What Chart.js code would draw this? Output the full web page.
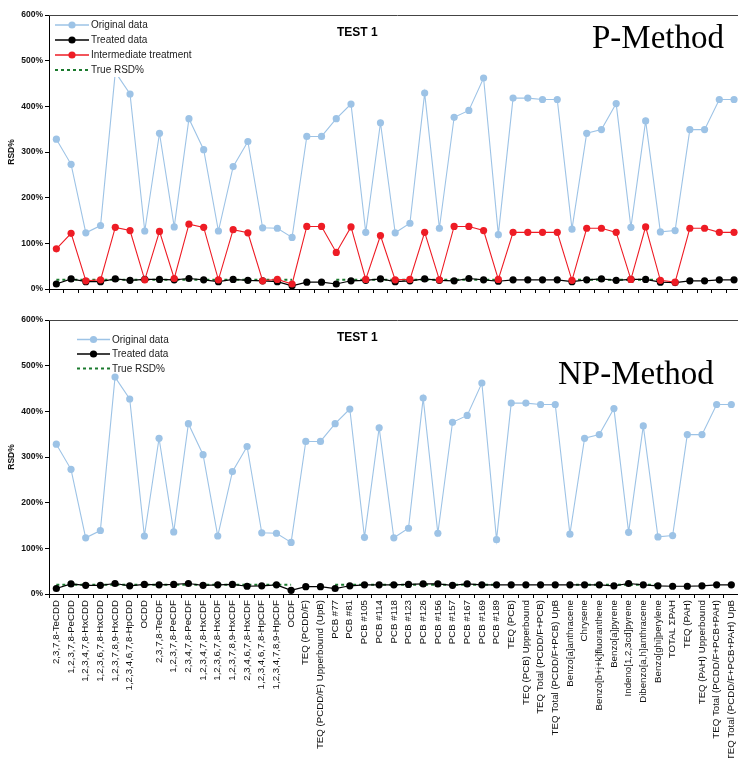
<!DOCTYPE html>
<html>
<head>
<meta charset="utf-8">
<script src="https://cdn.jsdelivr.net/npm/chart.js@4.4.0/dist/chart.umd.min.js"></script>
<style>
  html, body { margin: 0; padding: 0; background: #fff; overflow: hidden; width: 738px; height: 758px; }
  canvas { position: absolute; left: 0; }
  #topChart { top: 0; }
  #bottomChart { top: 305px; }
</style>
</head>
<body>
<canvas id="topChart" width="745" height="300"></canvas>
<canvas id="bottomChart" width="745" height="453"></canvas>
<script>
// categories along the x axis
const categories = [
  "2,3,7,8-TeCDD", "1,2,3,7,8-PeCDD", "1,2,3,4,7,8-HxCDD", "1,2,3,6,7,8-HxCDD",
  "1,2,3,7,8,9-HxCDD", "1,2,3,4,6,7,8-HpCDD", "OCDD", "2,3,7,8-TeCDF",
  "1,2,3,7,8-PeCDF", "2,3,4,7,8-PeCDF", "1,2,3,4,7,8-HxCDF", "1,2,3,6,7,8-HxCDF",
  "1,2,3,7,8,9-HxCDF", "2,3,4,6,7,8-HxCDF", "1,2,3,4,6,7,8-HpCDF", "1,2,3,4,7,8,9-HpCDF",
  "OCDF", "TEQ (PCDD/F)", "TEQ (PCDD/F) Upperbound (UpB)", "PCB #77", "PCB #81",
  "PCB #105", "PCB #114", "PCB #118", "PCB #123", "PCB #126", "PCB #156", "PCB #157",
  "PCB #167", "PCB #169", "PCB #189", "TEQ (PCB)", "TEQ (PCB) Upperbound",
  "TEQ Total (PCDD/F+PCB)", "TEQ Total (PCDD/F+PCB) UpB", "Benzo[a]anthracene",
  "Chrysene", "Benzo[b+j+k]fluoranthene", "Benzo[a]pyrene", "Indeno[1,2,3cd]pyrene",
  "Dibenzo[a,h]anthracene", "Benzo[ghi]perylene", "TOTAL \u03A3PAH", "TEQ (PAH)",
  "TEQ (PAH) Upperbound", "TEQ Total (PCDD/F+PCB+PAH)", "TEQ Total (PCDD/F+PCB+PAH) UpB"
];

// y ticks (RSD %)
const yTicks = [0, 100, 200, 300, 400, 500, 600];

// RSD% values
const originalData = [328, 273, 123, 139, 475, 427, 127, 341, 136, 373,
  305, 127, 268, 323, 134, 133, 113, 334, 334, 373,
  405, 124, 364, 123, 144, 429, 133, 376, 391, 462,
  119, 418, 418, 415, 415, 131, 341, 349, 406, 135,
  368, 125, 128, 349, 349, 415, 415];

const intermediateP = [88, 122, 18, 20, 135, 128, 20, 126, 23, 142,
  135, 20, 130, 123, 18, 21, 11, 137, 137, 80,
  136, 21, 117, 20, 21, 124, 20, 137, 137, 128,
  21, 124, 124, 124, 124, 19, 133, 133, 124, 21,
  136, 19, 15, 133, 133, 124, 124];

const treatedP = [11, 22, 16, 16, 22, 19, 21, 21, 20, 23,
  20, 16, 21, 19, 18, 16, 7, 15, 15, 11,
  18, 19, 22, 16, 18, 22, 19, 18, 23, 20,
  17, 20, 20, 20, 20, 16, 20, 22, 19, 21,
  21, 15, 14, 18, 18, 20, 20];

const treatedNP = [12, 22, 19, 19, 23, 18, 21, 20, 21, 23,
  19, 20, 21, 17, 18, 20, 8, 16, 16, 12,
  18, 20, 20, 20, 21, 22, 22, 19, 22, 20,
  20, 20, 20, 20, 20, 20, 20, 20, 18, 23,
  20, 18, 17, 17, 18, 20, 20];

const trueRSD = [20, 20, 20, 20, 20, 20, 20, 20, 20, 20,
  20, 20, 20, 20, 20, 20, 20, null, null, 20,
  20, 20, 20, 20, 20, 20, 20, 20, 20, 20,
  20, null, null, null, null, 20, 20, 20, 20, 20,
  20, 20, null, null, null, null, null];

const sans = "'Liberation Sans', Arial, sans-serif";

// legend drawn inside the plot, Excel style (line + marker)
const insideLegend = {
  id: "insideLegend",
  afterDatasetsDraw(chart, args, opts) {
    const ctx = chart.ctx;
    const sets = chart.data.datasets;
    ctx.save();
    ctx.font = "10px " + sans;
    ctx.textBaseline = "middle";
    if (opts.bg) {
      let w = 0;
      sets.forEach((ds) => { w = Math.max(w, ctx.measureText(ds.label).width); });
      ctx.fillStyle = "#fff";
      ctx.fillRect(opts.x - 4, opts.y - 8, opts.len + w + 8, (sets.length - 1) * opts.gap + 15);
    }
    sets.forEach((ds, i) => {
      const y = opts.y + i * opts.gap;
      ctx.strokeStyle = ds.borderColor;
      ctx.lineWidth = ds.borderDash ? 2 : 1.6;
      ctx.setLineDash(ds.borderDash || []);
      ctx.beginPath();
      ctx.moveTo(opts.x, y);
      ctx.lineTo(opts.x + opts.len, y);
      ctx.stroke();
      ctx.setLineDash([]);
      if (ds.pointRadius > 0) {
        ctx.fillStyle = ds.pointBackgroundColor;
        ctx.beginPath();
        ctx.arc(opts.x + opts.len / 2, y, ds.pointRadius, 0, Math.PI * 2);
        ctx.fill();
      }
      ctx.fillStyle = "#222";
      ctx.fillText(ds.label, opts.x + opts.len + 2, y + 0.5);
    });
    ctx.restore();
  }
};

// frame line on top of the plot + free texts
const extras = {
  id: "extras",
  afterDraw(chart, args, opts) {
    const ctx = chart.ctx;
    const a = chart.chartArea;
    ctx.save();
    ctx.strokeStyle = "#444";
    ctx.lineWidth = 1;
    ctx.beginPath();
    ctx.moveTo(a.left, a.top + 0.5);
    ctx.lineTo(a.right + 10, a.top + 0.5);
    ctx.stroke();
    ctx.textBaseline = "alphabetic";
    ctx.fillStyle = "#000";
    (opts.texts || []).forEach((t) => {
      ctx.font = t.font;
      ctx.fillText(t.text, t.x, t.y);
    });
    ctx.restore();
  }
};

function makeDatasets(treated, withIntermediate) {
  const sets = [
    {
      label: "Original data", data: originalData, order: 3,
      borderColor: "#9DC3E6", pointBackgroundColor: "#9DC3E6", borderWidth: 1.1
    },
    {
      label: "Treated data", data: treated, order: 1,
      borderColor: "#000000", pointBackgroundColor: "#000000", borderWidth: 1.2
    }
  ];
  if (withIntermediate) {
    sets.push({
      label: "Intermediate treatment", data: intermediateP, order: 0,
      borderColor: "#EE1C25", pointBackgroundColor: "#EE1C25", borderWidth: 1.1
    });
  }
  sets.push({
    label: "True RSD%", data: trueRSD, order: 2,
    borderColor: "#1B7A2E", borderDash: [3, 3], borderWidth: 2, pointRadius: 0
  });
  sets.forEach((s) => {
    if (s.pointRadius === undefined) s.pointRadius = 3.6;
    s.pointBorderWidth = 0;
    s.pointHoverRadius = s.pointRadius;
    s.spanGaps = false;
  });
  return sets;
}

function makeOptions(showLabels, xHeight, legendOpts, texts) {
  return {
    responsive: false,
    animation: false,
    events: [],
    layout: { padding: { top: 15, right: 2, left: 0, bottom: 0 } },
    plugins: {
      legend: { display: false },
      tooltip: { enabled: false },
      insideLegend: legendOpts,
      extras: { texts: texts }
    },
    scales: {
      x: {
        offset: true,
        grid: { offset: true, drawOnChartArea: false, drawTicks: true, tickLength: 4, color: "#000" },
        border: { color: "#000", width: 1 },
        ticks: {
          display: showLabels, autoSkip: false, minRotation: 90, maxRotation: 90,
          padding: 2, color: "#111", font: { family: sans, size: 9.7 }
        },
        afterFit: (s) => { s.height = xHeight; }
      },
      y: {
        min: 0,
        max: 600,
        afterBuildTicks: (s) => { s.ticks = yTicks.map((v) => ({ value: v })); },
        grid: { drawOnChartArea: false, tickLength: 4, color: "#000" },
        border: { color: "#000", width: 1 },
        ticks: {
          padding: 2, color: "#111",
          font: { family: sans, size: 8.5, weight: "bold" },
          callback: (v) => v + "%"
        },
        title: {
          display: true, text: "RSD%", color: "#111",
          font: { family: sans, size: 8.5, weight: "bold" },
          padding: { top: 7, bottom: 0 }
        },
        afterFit: (s) => { s.width = 49; }
      }
    }
  };
}

const topChart = new Chart(document.getElementById("topChart"), {
  type: "line",
  data: { labels: categories, datasets: makeDatasets(treatedP, true) },
  options: makeOptions(false, 11,
    { x: 55, y: 25, gap: 15, len: 34, bg: true },
    [
      { text: "TEST 1", x: 337, y: 36, font: "bold 12px " + sans },
      { text: "P-Method", x: 592, y: 48, font: "33px 'Liberation Serif', 'DejaVu Serif', serif" }
    ]),
  plugins: [insideLegend, extras]
});

const bottomChart = new Chart(document.getElementById("bottomChart"), {
  type: "line",
  data: { labels: categories, datasets: makeDatasets(treatedNP, false) },
  options: makeOptions(true, 164,
    { x: 77, y: 34.5, gap: 14.5, len: 33, bg: false },
    [
      { text: "TEST 1", x: 337, y: 36, font: "bold 12px " + sans },
      { text: "NP-Method", x: 558, y: 79, font: "33px 'Liberation Serif', 'DejaVu Serif', serif" }
    ]),
  plugins: [insideLegend, extras]
});
</script>
</body>
</html>
